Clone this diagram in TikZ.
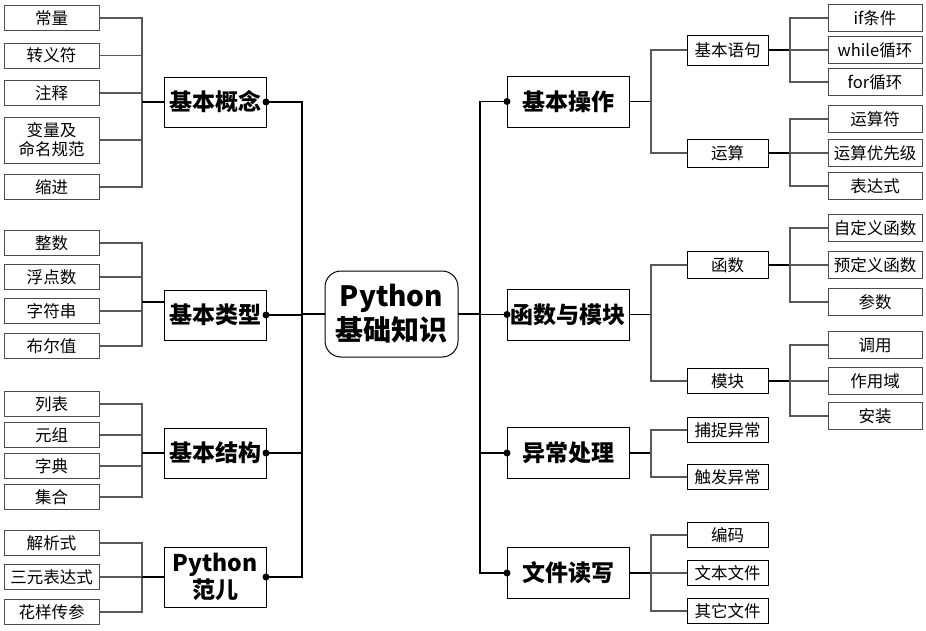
\documentclass[tikz,border=0pt]{standalone}
\usepackage{fontspec}
\setmainfont{Noto Sans CJK SC}
\usetikzlibrary{positioning}

\begin{document}
\begin{tikzpicture}[
    x=1pt, y=-1pt,
    leaf/.style={rectangle, draw=black!70, line width=0.9pt, minimum width=95pt, minimum height=25pt, inner sep=0pt, outer sep=0pt, align=center, font=\fontsize{16.5}{19}\selectfont},
    rleaf/.style={leaf, minimum width=94pt, minimum height=27pt},
    mid/.style={rectangle, draw=black, line width=0.9pt, minimum width=81pt, minimum height=25pt, inner sep=0pt, outer sep=0pt, font=\fontsize{16.5}{19}\selectfont},
    cat/.style={rectangle, draw=black, line width=0.9pt, minimum width=102pt, minimum height=50pt, inner sep=0pt, outer sep=0pt, align=center, font=\fontsize{23}{27}\selectfont\bfseries},
    rcat/.style={cat, minimum width=122pt, minimum height=51pt},
    root/.style={rectangle, rounded corners=16pt, draw=black, line width=1pt, minimum width=133pt, minimum height=86pt, inner sep=0pt, outer sep=0pt, align=center, font=\fontsize{28}{34}\selectfont\bfseries},
    twig/.style={draw=black!65, line width=1.1pt},
    branch/.style={draw=black, line width=1.2pt},
    trunk/.style={draw=black, line width=1.6pt}
]
\useasboundingbox (0,0) rectangle (926,631);

% Nodes
\node[root] (root) at (391.5,314) {Python\\基础知识};

\node[cat] (c1) at (215,102) {基本概念};
\node[cat] (c2) at (215,315) {基本类型};
\node[cat] (c3) at (215,453) {基本结构};
\node[cat, minimum height=60pt] (c4) at (215,577) {Python\\范儿};

\node[leaf] (l11) at (51.5,18) {常量};
\node[leaf] (l12) at (51.5,55.5) {转义符};
\node[leaf] (l13) at (51.5,93) {注释};
\node[leaf, minimum height=46pt] (l14) at (51.5,140) {变量及\\命名规范};
\node[leaf] (l15) at (51.5,187) {缩进};
\node[leaf] (l21) at (51.5,243) {整数};
\node[leaf] (l22) at (51.5,277) {浮点数};
\node[leaf] (l23) at (51.5,311) {字符串};
\node[leaf] (l24) at (51.5,346) {布尔值};
\node[leaf] (l31) at (51.5,404) {列表};
\node[leaf] (l32) at (51.5,435) {元组};
\node[leaf] (l33) at (51.5,466) {字典};
\node[leaf] (l34) at (51.5,497) {集合};
\node[leaf] (l41) at (51.5,543) {解析式};
\node[leaf] (l42) at (51.5,577) {三元表达式};
\node[leaf] (l43) at (51.5,612) {花样传参};

\node[rcat] (r1) at (568,101.5) {基本操作};
\node[rcat] (r2) at (568,314.5) {函数与模块};
\node[rcat] (r3) at (568,453) {异常处理};
\node[rcat] (r4) at (568,573) {文件读写};

\node[mid, minimum height=30pt] (m11) at (727.5,50) {基本语句};
\node[mid, minimum height=28pt] (m12) at (727.5,153) {运算};
\node[mid, minimum height=27pt] (m21) at (727.5,265) {函数};
\node[mid] (m22) at (727.5,381) {模块};
\node[mid] (m31) at (727.5,430) {捕捉异常};
\node[mid] (m32) at (727.5,477) {触发异常};
\node[mid] (m41) at (727.5,535) {编码};
\node[mid] (m42) at (727.5,573) {文本文件};
\node[mid] (m43) at (727.5,611) {其它文件};

\node[rleaf] (k1) at (875,18) {if条件};
\node[rleaf] (k2) at (875,50) {while循环};
\node[rleaf] (k3) at (875,82) {for循环};
\node[rleaf] (k4) at (875,119) {运算符};
\node[rleaf] (k5) at (875,153) {运算优先级};
\node[rleaf] (k6) at (875,186) {表达式};
\node[rleaf] (k7) at (875,228) {自定义函数};
\node[rleaf] (k8) at (875,265) {预定义函数};
\node[rleaf] (k9) at (875,302) {参数};
\node[rleaf] (k10) at (875,345) {调用};
\node[rleaf] (k11) at (875,381) {作用域};
\node[rleaf] (k12) at (875,416) {安装};

% Bus lines
\coordinate (lbus) at (142,0);
\coordinate (ltrunk) at (302,0);
\coordinate (rtrunk) at (480,0);
\coordinate (rbus) at (651,0);
\coordinate (kbus) at (790,0);
\coordinate (j2) at (142,302);

% Paths (left)
\draw[twig] (l11.east) -- (l11.east -| lbus) -- (l15.east -| lbus) -- (l15.east)
    (l12.east) -- (l12.east -| lbus) (l13.east) -- (l13.east -| lbus) (l14.east) -- (l14.east -| lbus);
\draw[branch] (c1.west) -- (c1.west -| lbus);
\draw[twig] (l21.east) -- (l21.east -| lbus) -- (l24.east -| lbus) -- (l24.east)
    (l22.east) -- (l22.east -| lbus) (l23.east) -- (l23.east -| lbus);
\draw[branch] (j2) -- (j2 -| c2.west);
\draw[twig] (l31.east) -- (l31.east -| lbus) -- (l34.east -| lbus) -- (l34.east)
    (l32.east) -- (l32.east -| lbus) (l33.east) -- (l33.east -| lbus);
\draw[branch] (c3.west) -- (c3.west -| lbus);
\draw[twig] (l41.east) -- (l41.east -| lbus) -- (l43.east -| lbus) -- (l43.east) (l42.east) -- (l42.east -| lbus);
\draw[branch] (c4.west) -- (c4.west -| lbus);

\draw[trunk] (c1.east) -- (c1.east -| ltrunk) -- (c4.east -| ltrunk) -- (c4.east)
    (c2.east) -- (c2.east -| ltrunk) (c3.east) -- (c3.east -| ltrunk) (root.west) -- (root.west -| ltrunk);
\foreach \c in {c1,c2,c3,c4} \fill (\c.east) circle (3.5pt);

% Paths (right)
\draw[trunk] (r1.west) -- (r1.west -| rtrunk) -- (r4.west -| rtrunk) -- (r4.west)
    (r2.west) -- (r2.west -| rtrunk) (r3.west) -- (r3.west -| rtrunk) (root.east) -- (root.east -| rtrunk);
\foreach \r in {r1,r2,r3,r4} \fill (\r.west) circle (3.5pt);

\draw[branch] (r1.east) -- (r1.east -| rbus);
\draw[twig] (m11.west) -- (m11.west -| rbus) -- (m12.west -| rbus) -- (m12.west);
\draw[branch] (r2.east) -- (r2.east -| rbus);
\draw[twig] (m21.west) -- (m21.west -| rbus) -- (m22.west -| rbus) -- (m22.west);
\draw[branch] (r3.east) -- (r3.east -| rbus);
\draw[twig] (m31.west) -- (m31.west -| rbus) -- (m32.west -| rbus) -- (m32.west);
\draw[branch] (r4.east) -- (r4.east -| rbus);
\draw[twig] (m41.west) -- (m41.west -| rbus) -- (m43.west -| rbus) -- (m43.west) (m42.west) -- (m42.west -| rbus);

\draw[branch] (m11.east) -- (m11.east -| kbus);
\draw[twig] (k1.west) -- (k1.west -| kbus) -- (k3.west -| kbus) -- (k3.west) (k2.west) -- (k2.west -| kbus);
\draw[branch] (m12.east) -- (m12.east -| kbus);
\draw[twig] (k4.west) -- (k4.west -| kbus) -- (k6.west -| kbus) -- (k6.west) (k5.west) -- (k5.west -| kbus);
\draw[branch] (m21.east) -- (m21.east -| kbus);
\draw[twig] (k7.west) -- (k7.west -| kbus) -- (k9.west -| kbus) -- (k9.west) (k8.west) -- (k8.west -| kbus);
\draw[branch] (m22.east) -- (m22.east -| kbus);
\draw[twig] (k10.west) -- (k10.west -| kbus) -- (k12.west -| kbus) -- (k12.west) (k11.west) -- (k11.west -| kbus);

\end{tikzpicture}
\end{document}
